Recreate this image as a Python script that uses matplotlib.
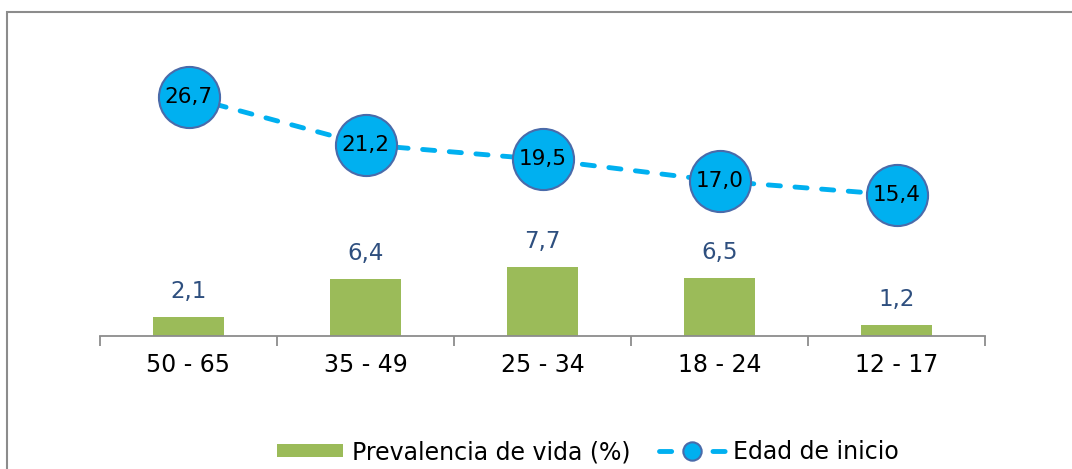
import matplotlib
matplotlib.use('Agg')
import matplotlib.pyplot as plt
from matplotlib.patches import Rectangle
import numpy as np

# --- datos ---
grupos = ['50 - 65', '35 - 49', '25 - 34', '18 - 24', '12 - 17']
prevalencia = [2.1, 6.4, 7.7, 6.5, 1.2]
edad_inicio = [26.7, 21.2, 19.5, 17.0, 15.4]

def coma(v):
    return f'{v:.1f}'.replace('.', ',')

plt.rcParams['font.family'] = ['DejaVu Sans']

W, H = 1072, 469
fig = plt.figure(figsize=(W / 100, H / 100), dpi=100)

# marco gris alrededor del gráfico
fig.patches.append(Rectangle((7 / W, -0.2), 1.2, 1.2 - 12 / H, transform=fig.transFigure,
                             fill=False, edgecolor='#8c8c8c', linewidth=1.5))

# área del gráfico
x0, x1, ybase, ytop = 100, 985, 336, 30
ax = fig.add_axes([x0 / W, (H - ybase) / H, (x1 - x0) / W, (ybase - ytop) / H])
x = np.arange(len(grupos))

# barras: prevalencia
ax.bar(x, prevalencia, width=0.4, color='#9BBB59', zorder=2, label='Prevalencia de vida (%)')
for xi, v in zip(x, prevalencia):
    ax.annotate(coma(v), (xi, v), xytext=(0, 10), textcoords='offset points',
                ha='center', va='bottom', fontsize=16.5, color='#2E4F7F')

ax.set_xlim(-0.5, len(grupos) - 0.5)
ax.set_ylim(0, (ybase - ytop) / 8.96)
ax.set_yticks([])
for s in ['top', 'right', 'left']:
    ax.spines[s].set_visible(False)
ax.spines['bottom'].set_color('#8c8c8c')
ax.spines['bottom'].set_linewidth(1.3)
ax.set_xticks(np.arange(-0.5, len(grupos)), minor=False)
ax.set_xticklabels([''] * (len(grupos) + 1))
ax.set_xticks(x, minor=True)
ax.set_xticklabels(grupos, minor=True, fontsize=17)
ax.tick_params(axis='x', which='major', direction='out', length=7, color='#8c8c8c', width=1.3)
ax.tick_params(axis='x', which='minor', length=0, pad=12)

# línea: edad de inicio (eje secundario)
ax2 = ax.twinx()
escala = 8.67
off = 7.5 / escala
ax2.set_ylim(-off, (ybase - ytop) / escala - off)
ax2.plot(x, edad_inicio, color='#00B0F0', linewidth=3.5, linestyle=(0, (2.5, 3)),
         dash_capstyle='round', marker='o', markersize=44, markerfacecolor='#00B0F0',
         markeredgecolor='#4A6BAA', markeredgewidth=1.5, zorder=3, label='Edad de inicio')
for xi, v in zip(x, edad_inicio):
    ax2.text(xi, v, coma(v), ha='center', va='center', fontsize=15.5, color='black', zorder=4)
ax2.axis('off')

# leyenda
h1, l1 = ax.get_legend_handles_labels()
h2, l2 = ax2.get_legend_handles_labels()
leg = fig.legend(h1 + h2, l1 + l2, loc='center', bbox_to_anchor=(588 / W, 1 - 452 / H),
                 ncol=2, frameon=False, fontsize=17, markerscale=0.3,
                 handlelength=2.8, handleheight=0.5, columnspacing=1.2, handletextpad=0.35)

fig.savefig('out.png', dpi=100)
